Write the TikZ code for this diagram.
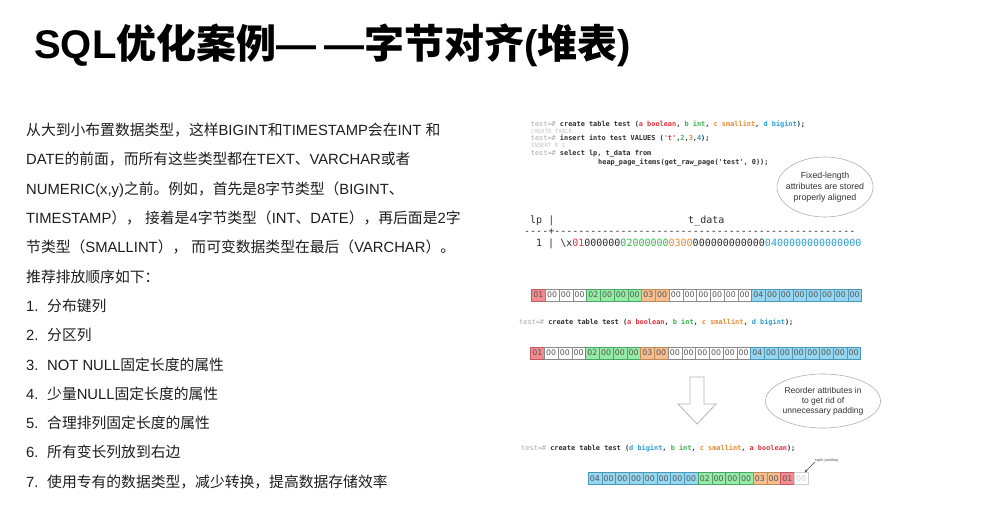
\documentclass[tikz,border=0pt]{standalone}
\usepackage{fontspec}
\setmainfont{Liberation Sans}
\setmonofont{DejaVu Sans Mono}
\newfontfamily\cjkfont{Noto Sans CJK SC}
\newfontfamily\cellfont{DejaVu Sans}
\usetikzlibrary{shapes.geometric,arrows.meta,calc}
\XeTeXinterchartokenstate=1
\newXeTeXintercharclass\cjkcls
\newcount\cjkcnt
\cjkcnt="4E00 \loop\XeTeXcharclass\cjkcnt=\cjkcls \advance\cjkcnt by 1 \ifnum\cjkcnt<"A000 \repeat
\cjkcnt="3000 \loop\XeTeXcharclass\cjkcnt=\cjkcls \advance\cjkcnt by 1 \ifnum\cjkcnt<"3040 \repeat
\cjkcnt="FF00 \loop\XeTeXcharclass\cjkcnt=\cjkcls \advance\cjkcnt by 1 \ifnum\cjkcnt<"FFF0 \repeat
\XeTeXinterchartoks 0 \cjkcls = {\cjkfont}
\XeTeXinterchartoks 4095 \cjkcls = {\cjkfont}
\XeTeXinterchartoks \cjkcls 0 = {\rmfamily}
\XeTeXinterchartoks \cjkcls 4095 = {\rmfamily}
\definecolor{bodytext}{HTML}{1E1E1E}
\definecolor{pgray}{HTML}{A8A8A8}
\definecolor{ctext}{HTML}{2E2E2E}
\definecolor{lgray}{HTML}{C4C4C4}
\definecolor{cR}{HTML}{E5323E}
\definecolor{cG}{HTML}{35B54C}
\definecolor{cO}{HTML}{E58A30}
\definecolor{cB}{HTML}{2B9FD4}
\definecolor{fR}{HTML}{F28B8F}
\definecolor{dR}{HTML}{C05A64}
\definecolor{fG}{HTML}{96EBA6}
\definecolor{dG}{HTML}{4AA468}
\definecolor{fO}{HTML}{F6BD8E}
\definecolor{dO}{HTML}{C08A5A}
\definecolor{fB}{HTML}{96D7EF}
\definecolor{dB}{HTML}{4B97B8}
\definecolor{dW}{HTML}{8A8A8A}
\definecolor{celltext}{HTML}{555555}
\definecolor{padgray}{HTML}{CFCFCF}
\definecolor{ellgray}{HTML}{B0B0B0}
\definecolor{notetext}{HTML}{333333}
\definecolor{arrowgray}{HTML}{B4B4B4}
\tikzset{
  ttlstyle/.style={anchor=base west, inner sep=0pt, font=\bfseries\fontsize{40}{40}\selectfont, text=black},
  bodytxt/.style={anchor=base west, inner sep=0pt, font=\fontsize{14.8}{15}\selectfont, text=bodytext},
  codetxt/.style={anchor=base west, inner sep=0pt, font=\ttfamily\fontsize{6.9}{7}\selectfont, text=ctext},
  codesmall/.style={anchor=base west, inner sep=0pt, font=\ttfamily\fontsize{5.7}{6}\selectfont, text=lgray},
  psqltxt/.style={anchor=base west, inner sep=0pt, font=\ttfamily\fontsize{10}{10}\selectfont, text=ctext},
  cell/.style={draw, rectangle, inner sep=0pt, minimum width=13.75pt, minimum height=12pt, line width=0.5pt,
    font=\cellfont\fontsize{7.8}{8}\selectfont, text=celltext},
  byteR/.style={fill=fR, draw=dR},
  byteG/.style={fill=fG, draw=dG},
  byteO/.style={fill=fO, draw=dO},
  byteB/.style={fill=fB, draw=dB},
  byteW/.style={fill=white, draw=dW},
  byteP/.style={fill=white, draw=padgray, text=padgray},
  notebub/.style={ellipse, draw=ellgray, fill=white, line width=0.6pt, inner sep=0pt, align=center, text=notetext},
}
\begin{document}
\begin{tikzpicture}[x=1pt,y=-1pt]
\useasboundingbox (0,0) rectangle (1000,527);
\fill[white] (0,0) rectangle (1000,527);

% title
\node[ttlstyle] (title) at (34,59) {SQL优化案例—\kern8pt—字节对齐(堆表)};

% left text
\node[bodytxt] (p1) at (26,135.6) {从大到小布置数据类型，这样BIGINT和TIMESTAMP会在INT 和};
\node[bodytxt] (p2) at (26,164.9) {DATE的前面，而所有这些类型都在TEXT、VARCHAR或者};
\node[bodytxt] (p3) at (26,194.2) {NUMERIC(x,y)之前。例如，首先是8字节类型（BIGINT、};
\node[bodytxt] (p4) at (26,223.5) {TIMESTAMP）， 接着是4字节类型（INT、DATE），再后面是2字};
\node[bodytxt] (p5) at (26,252.8) {节类型（SMALLINT）， 而可变数据类型在最后（VARCHAR）。};
\node[bodytxt] (p6) at (26,282.1) {推荐排放顺序如下：};
\foreach \num/\txt [count=\k from 0] in {1/分布键列,2/分区列,3/NOT NULL固定长度的属性,4/少量NULL固定长度的属性,5/合理排列固定长度的属性,6/所有变长列放到右边,7/{使用专有的数据类型，减少转换，提高数据存储效率}}{
  \node[bodytxt] (n\num) at (26,{311.4+29.3*\k}) {\num.};
  \node[bodytxt] (l\num) at (47,{311.4+29.3*\k}) {\txt};
}

% top code
\node[codetxt] (c1) at (530.7,126.5) {\textcolor{pgray}{test=\#} \textbf{create table test (\textcolor{cR}{a boolean}, \textcolor{cG}{b int}, \textcolor{cO}{c smallint}, \textcolor{cB}{d bigint});}};
\node[codesmall] (c2) at (530.7,133.3) {CREATE TABLE};
\node[codetxt] (c3) at (530.7,140.5) {\textcolor{pgray}{test=\#} \textbf{insert into test VALUES (\textcolor{cR}{'t'},\textcolor{cG}{2},\textcolor{cO}{3},\textcolor{cB}{4});}};
\node[codesmall] (c4) at (530.7,147.3) {INSERT 0 1};
\node[codetxt] (c5) at (530.7,155.5) {\textcolor{pgray}{test=\#} \textbf{select lp, t\_data from}};
\node[codetxt] (c6) at (598,164.5) {\textbf{heap\_page\_items(get\_raw\_page('test', 0));}};

% note 1
\node[notebub, minimum width=96pt, minimum height=60pt, inner xsep=-6pt, font=\fontsize{8.8}{11}\selectfont] (e1) at (825,187) {Fixed-length\\attributes are stored\\properly aligned};

% psql output
\node[psqltxt] (hlp) at (530,223.5) {lp |};
\node[psqltxt] (hdat) at (688,223.5) {t\_data};
\node[psqltxt] (hdash) at (524,234.7) {----+--------------------------------------------------};
\node[psqltxt] (drow) at (536,246.5) {1 | \textbackslash x\textcolor{cR}{01}000000\textcolor{cG}{02000000}\textcolor{cO}{0300}000000000000\textcolor{cB}{0400000000000000}};

% byte row 1
\foreach \tx/\sty [count=\i from 0] in {01/byteR,00/byteW,00/byteW,00/byteW,02/byteG,00/byteG,00/byteG,00/byteG,03/byteO,00/byteO,00/byteW,00/byteW,00/byteW,00/byteW,00/byteW,00/byteW,04/byteB,00/byteB,00/byteB,00/byteB,00/byteB,00/byteB,00/byteB,00/byteB}
  \node[cell,\sty] (ra\i) at ({531.5+13.75*\i+6.875},295) {\tx};

% middle code
\node[codetxt] (cm) at (519,324.5) {\textcolor{pgray}{test=\#} \textbf{create table test (\textcolor{cR}{a boolean}, \textcolor{cG}{b int}, \textcolor{cO}{c smallint}, \textcolor{cB}{d bigint});}};

% byte row 2
\foreach \tx/\sty [count=\i from 0] in {01/byteR,00/byteW,00/byteW,00/byteW,02/byteG,00/byteG,00/byteG,00/byteG,03/byteO,00/byteO,00/byteW,00/byteW,00/byteW,00/byteW,00/byteW,00/byteW,04/byteB,00/byteB,00/byteB,00/byteB,00/byteB,00/byteB,00/byteB,00/byteB}
  \node[cell,\sty] (rb\i) at ({530.5+13.75*\i+6.875},353) {\tx};

% hollow arrow
\draw[arrowgray, fill=white, line width=0.8pt, line join=miter] (690,377) -- (704,377) -- (704,404) -- (716,404) -- (697,424) -- (678,404) -- (690,404) -- cycle;

% note 2
\node[notebub, minimum width=115pt, minimum height=54pt, font=\fontsize{8.5}{10}\selectfont] (e2) at (823,401) {Reorder attributes in\\to get rid of\\unnecessary padding};

% bottom code
\node[codetxt] (cb) at (521,450.5) {\textcolor{pgray}{test=\#} \textbf{create table test (\textcolor{cB}{d bigint}, \textcolor{cG}{b int}, \textcolor{cO}{c smallint}, \textcolor{cR}{a boolean});}};

% byte row 3
\foreach \tx/\sty [count=\i from 0] in {04/byteB,00/byteB,00/byteB,00/byteB,00/byteB,00/byteB,00/byteB,00/byteB,02/byteG,00/byteG,00/byteG,00/byteG,03/byteO,00/byteO,01/byteR,00/byteP}
  \node[cell,\sty] (rc\i) at ({588+13.75*\i+6.875},478.5) {\tx};

% tuple padding label
\node[anchor=base west, inner sep=0pt, font=\fontsize{3.8}{4}\selectfont, text=celltext] (tp) at (815,461) {tuple padding};
\draw[-{Stealth[length=3pt,width=2.4pt]}, line width=0.4pt, draw=black!75] (tp.south west) -- ($(rc15.north)!0.5!(rc15.north east)$);
\end{tikzpicture}
\end{document}
